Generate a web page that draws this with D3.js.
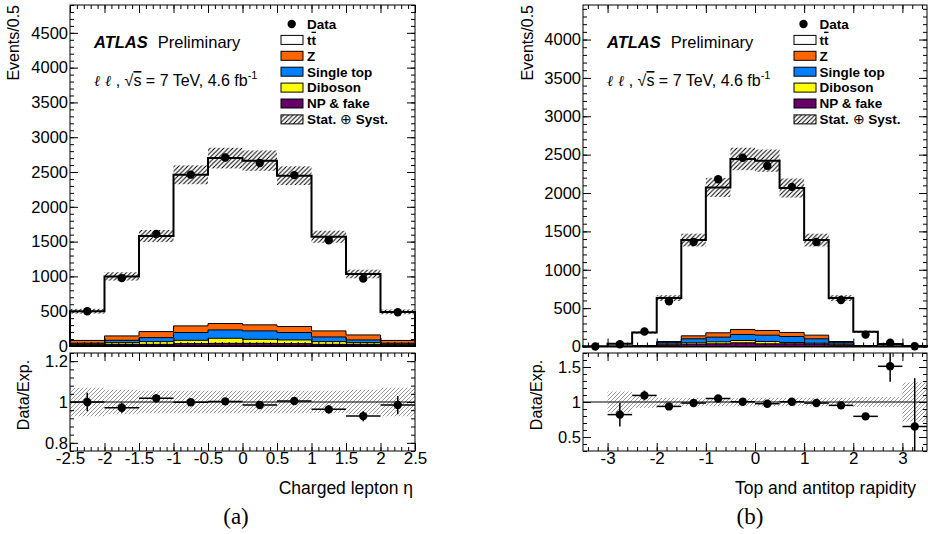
<!DOCTYPE html>
<html>
<head>
<meta charset="utf-8">
<script src="https://cdn.jsdelivr.net/npm/d3@7"></script>
<style>
  body { margin: 0; background: #fff; }
  svg { display: block; }
</style>
</head>
<body>
<svg id="chart" width="928" height="534"></svg>
<script>
// ---- (a) charged lepton eta ----
const etaEdges = [-2.5, -2, -1.5, -1, -0.5, 0, 0.5, 1, 1.5, 2, 2.5];
const etaTtbar = [420, 855, 1373, 2171, 2377, 2359, 2167, 1353, 876, 410];
const etaZ = [40, 63, 87, 96, 92, 87, 87, 87, 72, 40];
const etaSingleTop = [15, 34, 57, 111, 120, 121, 106, 67, 39, 15];
const etaDiboson = [10, 24, 39, 48, 73, 58, 53, 39, 24, 10];
const etaFake = [15, 24, 24, 34, 38, 38, 34, 24, 24, 15];
const etaData = [500, 975, 1610, 2462, 2708, 2630, 2455, 1520, 968, 485];
const etaRatio = [1.0, 0.972, 1.018, 0.999, 1.003, 0.985, 1.005, 0.964, 0.931, 0.985];
const etaRatioErr = [0.045, 0.025, 0.02, 0.012, 0.012, 0.012, 0.012, 0.02, 0.025, 0.045];
const etaBand = [0.07, 0.06, 0.055, 0.055, 0.055, 0.055, 0.055, 0.055, 0.06, 0.07];
const etaXTicks = [-2.5, -2, -1.5, -1, -0.5, 0, 0.5, 1, 1.5, 2, 2.5];
const etaYTicks = [0, 500, 1000, 1500, 2000, 2500, 3000, 3500, 4000, 4500];
const etaRatioTicks = [0.8, 1, 1.2];

// ---- (b) top and antitop rapidity ----
const rapEdges = [-3.5, -3, -2.5, -2, -1.5, -1, -0.5, 0, 0.5, 1, 1.5, 2, 2.5, 3, 3.5];
const rapTtbar = [3, 33, 170, 566, 1248, 1895, 2222, 2212, 1882, 1239, 566, 180, 29, 5];
const rapZ = [0, 1, 3, 15, 39, 56, 66, 61, 53, 48, 15, 3, 1, 0];
const rapSingleTop = [0, 1, 4, 20, 52, 61, 78, 83, 78, 57, 20, 4, 1, 0];
const rapDiboson = [0, 0, 2, 12, 18, 26, 30, 30, 17, 13, 12, 2, 0, 0];
const rapFake = [0, 1, 3, 18, 30, 35, 48, 35, 35, 30, 18, 3, 1, 0];
const rapData = [0, 30, 196, 590, 1362, 2180, 2460, 2355, 2080, 1362, 605, 155, 50, 3];
const rapRatio = [null, 0.82, 1.094, 0.937, 0.985, 1.05, 1.004, 0.976, 1.004, 0.985, 0.952, 0.795, 1.51, 0.65];
const rapRatioErr = [null, 0.17, 0.07, 0.025, 0.02, 0.015, 0.015, 0.015, 0.015, 0.02, 0.025, 0.035, 0.22, 0.69];
const rapBand = [null, 0.15, 0.085, 0.06, 0.06, 0.06, 0.06, 0.06, 0.06, 0.06, 0.06, 0.07, 0.07, 0.28];
const rapXTicks = [-3, -2, -1, 0, 1, 2, 3];
const rapYTicks = [0, 500, 1000, 1500, 2000, 2500, 3000, 3500, 4000];
const rapRatioTicks = [0.5, 1, 1.5];

// legend, bottom to top of the stack order is fake, diboson, single top, Z, ttbar
const legendLabels = ["Data", "tt", "Z", "Single top", "Diboson", "NP & fake", "Stat. ⊕ Syst."];
const stackColors = ["#660066", "#ffff00", "#0080ff", "#ff6600", "#ffffff"];
const legendColors = [null, "#ffffff", "#ff6600", "#0080ff", "#ffff00", "#660066", "hatch"];

const font = '"Liberation Sans", Arial, Helvetica, sans-serif';

var svg = d3.select("#chart");
var defs = svg.append("defs");

function addHatch(id, color, s) {
    defs.append("pattern")
        .attr("id", id)
        .attr("patternUnits", "userSpaceOnUse")
        .attr("width", s).attr("height", s)
      .append("path")
        .attr("d", `M-1,1 l2,-2 M0,${s} l${s},${-s} M${s - 1},${s + 1} l2,-2`)
        .attr("stroke", color)
        .attr("stroke-width", 1);
}
addHatch("hatchBlack", "#000", 4.5);
addHatch("hatchGray", "#999", 4);

function minorTicks(lo, hi, step) {
    var out = [];
    for (var i = Math.ceil(lo / step - 1e-9); i <= Math.floor(hi / step + 1e-9); i++)
        out.push(+(i * step).toFixed(6));
    return out;
}

// ROOT style frame: ticks point inwards on all four sides
function frameAxes(g, x, y, w, h, xMajor, xMinor, yMajor, yMinor, xLabels) {
    var sides = [
        [d3.axisLeft(y).tickValues(yMajor).tickSize(-8).tickPadding(2).tickFormat(d => d), null, 16.5],
        [d3.axisLeft(y).tickValues(yMinor).tickSize(-4).tickFormat(""), null],
        [d3.axisRight(y).tickValues(yMajor).tickSize(-8).tickFormat(""), [w, 0]],
        [d3.axisRight(y).tickValues(yMinor).tickSize(-4).tickFormat(""), [w, 0]],
        [d3.axisTop(x).tickValues(xMajor).tickSize(-8).tickFormat(""), null],
        [d3.axisTop(x).tickValues(xMinor).tickSize(-4).tickFormat(""), null],
        [d3.axisBottom(x).tickValues(xMajor).tickSize(-8).tickPadding(1)
            .tickFormat(xLabels ? (d => d) : ""), [0, h], 17],
        [d3.axisBottom(x).tickValues(xMinor).tickSize(-4).tickFormat(""), [0, h]]
    ];
    sides.forEach(s => {
        var a = g.append("g");
        if (s[1]) a.attr("transform", "translate(" + s[1][0] + "," + s[1][1] + ")");
        a.call(s[0]);
        a.attr("font-family", font).attr("font-size", s[2] || 10);
        a.select(".domain").remove();
    });
    g.append("rect")
        .attr("width", w).attr("height", h)
        .attr("fill", "none").attr("stroke", "#000").attr("stroke-width", 1);
}

function drawPanel(p) {
    var w = p.x1 - p.x0,
        hMain = p.mainBottom - p.mainTop,
        hRatio = p.ratioBottom - p.ratioTop,
        nb = p.edges.length - 1;

    var x = d3.scaleLinear().domain([p.edges[0], p.edges[nb]]).range([0, w]);
    var y = d3.scaleLinear().domain([0, p.yMax]).range([hMain, 0]);
    var yr = d3.scaleLinear().domain(p.ratioDomain).range([hRatio, 0]);

    // ---------- main pad ----------
    var g = svg.append("g").attr("transform", "translate(" + p.x0 + "," + p.mainTop + ")");

    // cumulative stack
    var cum = [];
    p.layers.forEach((l, k) => {
        cum.push(l.map((v, i) => v + (k > 0 ? cum[k - 1][i] : 0)));
    });
    var area = d3.area()
        .curve(d3.curveStepAfter)
        .x(d => x(d[0]))
        .y0(y(0))
        .y1(d => y(d[1]));
    for (var k = cum.length - 1; k >= 0; k--) {
        var pts = p.edges.map((e, i) => [e, cum[k][Math.min(i, nb - 1)]]);
        g.append("path")
            .attr("d", area(pts))
            .attr("fill", stackColors[k])
            .attr("stroke", "#000")
            .attr("stroke-width", k == cum.length - 1 ? 2 : 1);
    }
    var total = cum[cum.length - 1];

    // stat + syst hatch on the total
    g.selectAll(".band")
        .data(total.map((t, i) => ({ t: t, b: p.band[i], i: i })).filter(d => d.b != null))
        .enter()
        .append("rect")
            .attr("x", d => x(p.edges[d.i]))
            .attr("width", d => x(p.edges[d.i + 1]) - x(p.edges[d.i]))
            .attr("y", d => y(d.t * (1 + d.b)))
            .attr("height", d => y(d.t * (1 - d.b)) - y(d.t * (1 + d.b)))
            .attr("fill", "url(#hatchBlack)");

    g.selectAll(".dot")
        .data(p.data)
        .enter()
        .append("circle")
            .attr("cx", (d, i) => x((p.edges[i] + p.edges[i + 1]) / 2))
            .attr("cy", d => y(d))
            .attr("r", 4.2)
            .attr("fill", "#000");

    frameAxes(g, x, y, w, hMain, p.xTicks, minorTicks(p.edges[0], p.edges[nb], p.xMinor),
        p.yTicks, minorTicks(0, p.yMax, 100), false);

    // ATLAS label
    var t1 = g.append("text")
        .attr("x", p.textX - p.x0).attr("y", 48 - p.mainTop)
        .attr("font-family", font).attr("font-size", 16.5);
    t1.append("tspan").attr("font-weight", "bold").attr("font-style", "italic").text("ATLAS");
    t1.append("tspan").attr("dx", 10).text("Preliminary");

    var t2 = g.append("text")
        .attr("x", p.textX - p.x0).attr("y", 86 - p.mainTop)
        .attr("font-family", font).attr("font-size", 16);
    t2.append("tspan").attr("font-family", '"DejaVu Serif", serif').attr("font-style", "italic")
        .attr("font-size", 15).text("ℓ ℓ");
    t2.append("tspan").text(" , √");
    t2.append("tspan").style("text-decoration", "overline").text("s");
    t2.append("tspan").text(" = 7 TeV, 4.6 fb");
    t2.append("tspan").attr("font-size", 11).attr("dy", -7).text("-1");

    // legend
    legendLabels.forEach((lab, i) => {
        var ly = 24 + 15.9 * i - p.mainTop;
        if (i == 0) {
            g.append("circle").attr("cx", p.legDot - p.x0).attr("cy", ly).attr("r", 4.2).attr("fill", "#000");
        } else {
            g.append("rect")
                .attr("x", p.legBox - p.x0).attr("y", ly - 4.5)
                .attr("width", 22).attr("height", 9)
                .attr("fill", legendColors[i] == "hatch" ? "url(#hatchBlack)" : legendColors[i])
                .attr("stroke", "#000").attr("stroke-width", 1);
        }
        var lt = g.append("text")
            .attr("x", p.legText - p.x0).attr("y", ly + 4.8)
            .attr("font-family", font).attr("font-size", 13.5).attr("font-weight", "bold");
        if (i == 1) {
            lt.append("tspan").text("t");
            lt.append("tspan").style("text-decoration", "overline").text("t");
        } else if (i == 6) {
            lt.append("tspan").text("Stat. ");
            lt.append("tspan").attr("font-weight", "normal").text("⊕");
            lt.append("tspan").text(" Syst.");
        } else {
            lt.text(lab);
        }
    });

    // y title
    svg.append("text")
        .attr("transform", "translate(" + p.ylabX + ",5) rotate(-90)")
        .attr("text-anchor", "end")
        .attr("font-family", font).attr("font-size", 16)
        .text("Events/0.5");

    // ---------- ratio pad ----------
    var r = svg.append("g").attr("transform", "translate(" + p.x0 + "," + p.ratioTop + ")");
    var clipId = "clip" + p.x0;
    defs.append("clipPath").attr("id", clipId)
        .append("rect").attr("width", w).attr("height", hRatio);
    var rc = r.append("g").attr("clip-path", "url(#" + clipId + ")");

    rc.selectAll(".rband")
        .data(p.band.map((b, i) => ({ b: b, i: i })).filter(d => d.b != null))
        .enter()
        .append("rect")
            .attr("x", d => x(p.edges[d.i]))
            .attr("width", d => x(p.edges[d.i + 1]) - x(p.edges[d.i]))
            .attr("y", d => yr(1 + d.b))
            .attr("height", d => yr(1 - d.b) - yr(1 + d.b))
            .attr("fill", "url(#hatchGray)");

    rc.append("line")
        .attr("x1", 0).attr("x2", w)
        .attr("y1", yr(1)).attr("y2", yr(1))
        .attr("stroke", "#000").attr("stroke-width", 1);

    var pts = p.ratio.map((v, i) => ({ v: v, e: p.ratioErr[i], i: i })).filter(d => d.v != null);
    pts.forEach(d => {
        var cx = x((p.edges[d.i] + p.edges[d.i + 1]) / 2);
        rc.append("line")
            .attr("x1", x(p.edges[d.i])).attr("x2", x(p.edges[d.i + 1]))
            .attr("y1", yr(d.v)).attr("y2", yr(d.v))
            .attr("stroke", "#000").attr("stroke-width", 1.5);
        rc.append("line")
            .attr("x1", cx).attr("x2", cx)
            .attr("y1", yr(d.v - d.e)).attr("y2", yr(d.v + d.e))
            .attr("stroke", "#000").attr("stroke-width", 1.5);
        rc.append("circle")
            .attr("cx", cx).attr("cy", yr(d.v)).attr("r", 4.2).attr("fill", "#000");
    });

    frameAxes(r, x, yr, w, hRatio, p.xTicks, minorTicks(p.edges[0], p.edges[nb], p.xMinor),
        p.ratioTicks, minorTicks(p.ratioDomain[0], p.ratioDomain[1], p.ratioMinor), true);

    svg.append("text")
        .attr("transform", "translate(" + p.rlabX + ",395) rotate(-90)")
        .attr("text-anchor", "middle")
        .attr("font-family", font).attr("font-size", 16)
        .text("Data/Exp.");

    // x title and sub-figure tag
    svg.append("text")
        .attr("x", p.xTitleX).attr("y", 494)
        .attr("text-anchor", "end")
        .attr("font-family", font).attr("font-size", 17.5)
        .text(p.xTitle);

    svg.append("text")
        .attr("x", p.tagX).attr("y", 524)
        .attr("text-anchor", "middle")
        .attr("font-family", '"Liberation Serif", "DejaVu Serif", serif').attr("font-size", 23)
        .text(p.tag);
}

drawPanel({
    x0: 70, x1: 415, mainTop: 5, mainBottom: 346, ratioTop: 353, ratioBottom: 451,
    edges: etaEdges,
    layers: [etaFake, etaDiboson, etaSingleTop, etaZ, etaTtbar],
    data: etaData, ratio: etaRatio, ratioErr: etaRatioErr, band: etaBand,
    yMax: 4900, yTicks: etaYTicks, xTicks: etaXTicks, xMinor: 0.1,
    ratioDomain: [0.76, 1.24], ratioTicks: etaRatioTicks, ratioMinor: 0.04,
    textX: 94, legDot: 291.7, legBox: 281, legText: 307,
    ylabX: 19, rlabX: 28.5,
    xTitle: "Charged lepton η", xTitleX: 413, tag: "(a)", tagX: 236
});

drawPanel({
    x0: 583, x1: 927, mainTop: 5, mainBottom: 346.5, ratioTop: 353, ratioBottom: 451,
    edges: rapEdges,
    layers: [rapFake, rapDiboson, rapSingleTop, rapZ, rapTtbar],
    data: rapData, ratio: rapRatio, ratioErr: rapRatioErr, band: rapBand,
    yMax: 4450, yTicks: rapYTicks, xTicks: rapXTicks, xMinor: 0.2,
    ratioDomain: [0.3, 1.7], ratioTicks: rapRatioTicks, ratioMinor: 0.1,
    textX: 607, legDot: 803.5, legBox: 794, legText: 819.5,
    ylabX: 533, rlabX: 541.5,
    xTitle: "Top and antitop rapidity", xTitleX: 916, tag: "(b)", tagX: 750
});
</script>
</body>
</html>
